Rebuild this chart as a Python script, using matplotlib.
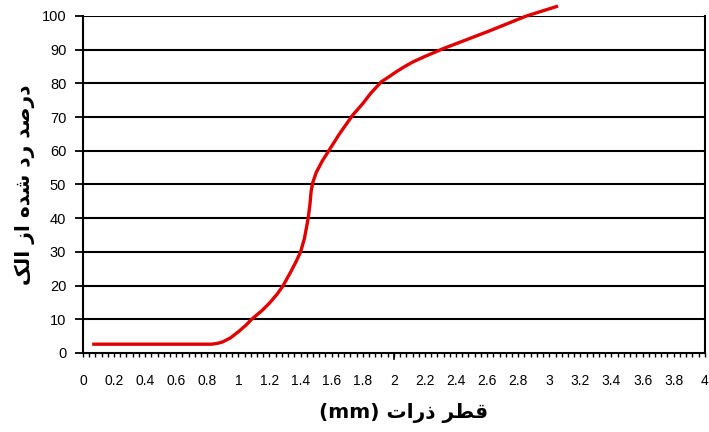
import matplotlib
matplotlib.use("Agg")
import matplotlib.pyplot as plt
from matplotlib.ticker import MultipleLocator

# داده‌های منحنی دانه‌بندی (خوانده شده از تصویر)
diameter_mm = [0.07, 0.83, 0.87, 0.90, 0.95, 1.0, 1.05, 1.085, 1.15, 1.2,
               1.25, 1.288, 1.33, 1.37, 1.4, 1.425, 1.449, 1.46, 1.468,
               1.478, 1.50, 1.54, 1.588, 1.65, 1.734, 1.8, 1.85, 1.92,
               1.97, 2.017, 2.07, 2.124, 2.2, 2.317, 2.6, 2.853, 3.046]
passing_pct = [2.6, 2.6, 2.9, 3.3, 4.5, 6.3, 8.3, 10, 12.5, 14.8,
               17.5, 20, 23.5, 27, 30, 34, 40, 44, 48,
               50.5, 53.5, 57, 60.5, 65, 70.5, 74, 77, 80.5,
               82, 83.5, 85, 86.4, 88, 90.3, 95.3, 100, 102.8]

x_ticks = [round(0.2 * i, 1) for i in range(21)]
x_labels = ["0", "0.2", "0.4", "0.6", "0.8", "1", "1.2", "1.4", "1.6", "1.8", "2",
            "2.2", "2.4", "2.6", "2.8", "3", "3.2", "3.4", "3.6", "3.8", "4"]
y_ticks = list(range(0, 101, 10))

# متن‌ها به ترتیب نمایشی (شکل‌های نمایشی عربی، چپ به راست)
ylabel_txt = "\uFB8F\uFEDF\uFE8D \uFEAF\uFE8D \uFEE9\uFEAA\uFEB7 \uFEA9\uFEAD \uFEAA\uFEBB\uFEAD\uFEA9"
xlabel_txt = "(mm) \uFE95\uFE8D\uFEAD\uFEAB \uFEAE\uFEC4\uFED7"

plt.rcParams['font.family'] = ['Liberation Sans', 'DejaVu Sans']

fig = plt.figure(figsize=(7.09, 4.32), dpi=100)
ax = fig.add_axes([0.117, 0.183, 0.877, 0.780])

ax.plot(diameter_mm, passing_pct, color='#e00000', linewidth=2.4, clip_on=False,
        zorder=5, solid_joinstyle='round')

ax.set_xlim(0, 4)
ax.set_ylim(0, 100)

# خطوط افقی شبکه
for yv in y_ticks[1:]:
    ax.axhline(yv, color='black', linewidth=1.5, zorder=1)

ax.set_yticks(y_ticks)
ax.set_xticks(x_ticks)
ax.set_xticklabels(x_labels)
ax.xaxis.set_minor_locator(MultipleLocator(0.04))
ax.tick_params(axis='x', which='both', direction='out', length=3, width=1,
               labelsize=10, colors='black', pad=12)
ax.tick_params(axis='y', which='major', direction='out', length=6, width=1.3,
               labelsize=10.5, pad=6)

for side in ['left', 'right', 'bottom']:
    ax.spines[side].set_linewidth(1.5)
    ax.spines[side].set_color('black')
ax.spines['top'].set_visible(False)

# تیک بلندتر روی ۲
ax.plot([2, 2], [0, -1.8], color='black', linewidth=1.2, clip_on=False)

ax.set_xlabel(xlabel_txt, fontsize=14.5, fontweight='bold', family=['DejaVu Sans'])
ax.set_ylabel(ylabel_txt, fontsize=14.5, fontweight='bold', family=['DejaVu Sans'])
ax.xaxis.set_label_coords(0.516, -0.148)
ax.yaxis.set_label_coords(-0.077, 0.5)

fig.savefig("out.png", dpi=100)
plt.close(fig)
